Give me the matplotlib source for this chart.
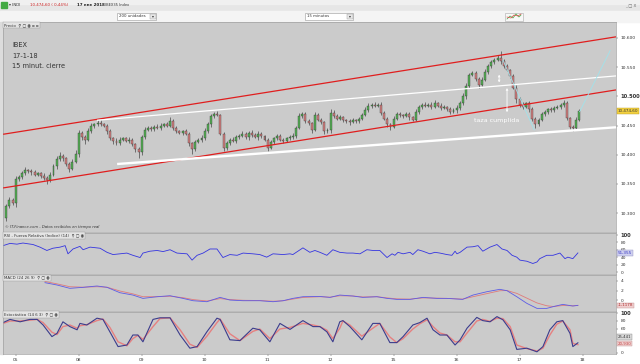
import numpy as np
import matplotlib
matplotlib.use('Agg')
import matplotlib.pyplot as plt
from matplotlib.patches import Rectangle

W, H = 640, 364

# --- price data (15 min bars) ---
day_labels = ['05', '08', '09', '10', '11', '12', '15', '16', '17', '18']
first_open = 10292
close_d04 = [10312, 10322, 10318]
close_d05 = [10358, 10362, 10368, 10374, 10372, 10370, 10366, 10368, 10364, 10360,
             10356, 10366, 10380, 10392, 10398, 10394, 10384, 10376, 10388, 10402]
close_d08 = [10438, 10430, 10426, 10440, 10450, 10452, 10455, 10452, 10450, 10440,
             10428, 10424, 10420, 10426, 10428, 10424, 10426, 10418, 10410, 10405]
close_d09 = [10430, 10442, 10446, 10444, 10448, 10446, 10450, 10452, 10450, 10458,
             10446, 10440, 10438, 10440, 10436, 10420, 10410, 10422, 10426, 10428]
close_d10 = [10440, 10452, 10466, 10470, 10468, 10436, 10412, 10420, 10426, 10424,
             10430, 10432, 10436, 10430, 10438, 10434, 10430, 10436, 10432, 10426]
close_d11 = [10412, 10422, 10428, 10432, 10426, 10424, 10428, 10430, 10432, 10446,
             10466, 10470, 10458, 10454, 10442, 10468, 10460, 10456, 10440, 10442]
close_d12 = [10472, 10466, 10462, 10464, 10460, 10458, 10456, 10460, 10458, 10462,
             10468, 10476, 10484, 10486, 10484, 10486, 10472, 10462, 10452, 10448]
close_d15 = [10462, 10470, 10468, 10466, 10470, 10464, 10460, 10474, 10482, 10486,
             10484, 10486, 10482, 10488, 10484, 10480, 10482, 10478, 10474, 10476]
close_d16 = [10480, 10488, 10500, 10518, 10536, 10540, 10530, 10520, 10528, 10542,
             10552, 10558, 10562, 10566, 10560, 10552, 10545, 10535, 10515, 10495]
close_d17 = [10486, 10482, 10488, 10478, 10462, 10452, 10460, 10470, 10474, 10478,
             10476, 10480, 10482, 10486, 10489, 10463, 10448, 10446, 10460, 10474.6]

up_wick = [4, 6, 3,
           6, 3, 4, 5, 2, 3, 4, 2, 3, 4, 3, 5, 4, 6, 7, 3, 2, 4, 5, 6,
           5, 3, 4, 6, 4, 3, 5, 4, 3, 2, 4, 3, 5, 4, 2, 3, 4, 3, 2, 3,
           4, 5, 3, 4, 3, 5, 4, 3, 4, 6, 3, 4, 3, 2, 4, 3, 2, 4, 3, 5,
           5, 4, 3, 4, 5, 2, 3, 4, 3, 5, 4, 3, 4, 3, 2, 4, 3, 4, 3, 2,
           3, 4, 2, 3, 4, 3, 2, 3, 6, 4, 5, 3, 4, 3, 2, 5, 4, 3, 2, 3,
           6, 4, 3, 4, 3, 2, 4, 3, 2, 3, 4, 5, 4, 3, 5, 3, 4, 3, 2, 3,
           4, 3, 4, 2, 3, 4, 3, 5, 4, 3, 4, 3, 4, 5, 3, 4, 3, 2, 3, 4,
           5, 4, 6, 5, 4, 3, 4, 3, 5, 4, 3, 4, 3, 5, 11, 4, 3, 2, 3, 4,
           4, 5, 3, 4, 3, 2, 3, 4, 3, 2, 4, 3, 4, 3, 4, 3, 2, 3, 4, 3]
dn_wick = [5, 3, 4,
           8, 3, 4, 2, 3, 4, 3, 2, 4, 3, 6, 3, 2, 4, 3, 5, 4, 6, 3, 2,
           6, 4, 8, 3, 2, 4, 3, 2, 3, 4, 3, 5, 4, 3, 2, 3, 4, 3, 5, 10,
           5, 3, 2, 4, 3, 2, 4, 3, 2, 3, 4, 3, 2, 4, 3, 5, 8, 3, 2, 4,
           3, 2, 4, 3, 2, 3, 6, 4, 3, 2, 4, 3, 2, 3, 4, 3, 2, 4, 3, 3,
           6, 3, 4, 2, 3, 4, 3, 2, 3, 4, 2, 3, 4, 3, 5, 2, 3, 4, 5, 3,
           4, 3, 2, 3, 4, 3, 5, 2, 3, 4, 3, 2, 3, 4, 3, 2, 4, 3, 4, 5,
           3, 2, 4, 3, 2, 5, 3, 2, 4, 3, 2, 3, 4, 2, 3, 4, 2, 3, 4, 3,
           4, 3, 2, 4, 3, 2, 4, 5, 3, 2, 3, 4, 3, 2, 4, 3, 2, 4, 3, 6,
           4, 3, 2, 4, 5, 6, 3, 2, 3, 4, 2, 3, 2, 3, 4, 3, 4, 5, 3, 2]

# trend lines drawn on the chart: (bar index, price)
red_top = [(-1.0, 10435), (193.6, 10602)]
red_bottom = [(-1.0, 10343), (193.6, 10511)]
white_top = [(28.8, 10459), (193.6, 10535)]
white_bottom = [(35.2, 10384), (193.6, 10447)]
cyan_down = [(157.7, 10562), (167.7, 10442)]
cyan_up = [(182.0, 10473), (191.8, 10579)]

# --- indicators ---
rsi_t = [-1.0, 1.2, 3.4, 5.3, 8.5, 10.7, 12.9, 14.8, 17.1, 18.7,
         19.6, 21.2, 23.4, 24.4, 26.6, 29.8, 32.0, 33.9, 36.1, 38.3,
         40.2, 42.5, 43.4, 45.6, 47.9, 49.8, 52.0, 54.2, 57.4, 59.0,
         60.6, 62.5, 64.7, 66.9, 68.8, 71.0, 73.3, 75.2, 78.3, 80.5,
         82.7, 84.7, 87.9, 90.1, 91.0, 94.2, 96.4, 98.0, 99.6, 101.8,
         103.7, 105.9, 108.2, 110.1, 112.3, 114.5, 116.4, 118.6, 120.9, 122.5,
         123.4, 124.4, 126.0, 128.2, 129.1, 130.7, 132.3, 134.5, 136.1, 137.7,
         139.9, 141.5, 142.5, 143.1, 144.1, 146.3, 148.2, 149.8, 151.3, 153.6,
         155.8, 157.4, 159.0, 160.6, 162.1, 163.1, 165.3, 167.2, 168.5, 169.4,
         171.6, 173.6, 175.8, 177.4, 178.3, 179.9, 181.5]
rsi_v = [71, 77, 75, 78, 74, 67, 58, 64, 67, 71,
         49, 62, 69, 60, 67, 64, 53, 47, 49, 51,
         45, 39, 51, 56, 58, 55, 60, 51, 49, 32,
         45, 51, 62, 62, 39, 47, 45, 51, 49, 47,
         40, 49, 47, 49, 47, 65, 53, 58, 53, 45,
         60, 53, 51, 51, 49, 60, 58, 58, 39, 49,
         45, 53, 49, 53, 47, 60, 56, 49, 53, 51,
         47, 45, 56, 49, 53, 67, 68, 71, 56, 67,
         74, 62, 58, 45, 40, 32, 29, 23, 27, 36,
         45, 45, 51, 36, 40, 36, 51.355]

macd_t = [12.3, 16.1, 20.2, 24.4, 28.8, 32.0, 36.1, 40.2, 43.4, 47.9,
          52.0, 56.1, 59.3, 63.7, 67.9, 71.0, 75.2, 80.5, 84.7, 87.9,
          91.0, 94.2, 99.6, 102.8, 105.9, 110.1, 113.2, 117.7, 120.9, 124.0,
          128.2, 132.3, 136.7, 139.9, 144.9, 148.2, 152.6, 156.7, 159.0, 162.1,
          165.3, 168.5, 171.6, 173.6, 176.7, 179.9, 181.5]
macd_v = [3.65, 3.16, 2.46, 2.67, 2.95, 2.67, 1.54, 1.05, 0.35, 0.7,
          0.91, 0.35, -0.14, -0.35, 0.56, 0.0, -0.14, -0.14, -0.35, -0.14,
          0.35, 0.7, 0.75, 0.56, 1.05, 0.84, 0.56, 0.7, 0.35, 0.14,
          0.14, 0.56, 0.35, 0.35, 0.14, 1.05, 1.75, 2.25, 1.96, 0.7,
          -0.7, -1.75, -1.75, -1.4, -0.91, -1.26, -1.1178]
signal_v = [3.9, 3.4, 2.8, 2.7, 2.8, 2.7, 1.9, 1.3, 0.7, 0.7,
            0.8, 0.5, 0.1, -0.2, 0.3, 0.1, -0.05, -0.1, -0.25, -0.15,
            0.2, 0.55, 0.7, 0.6, 0.9, 0.85, 0.65, 0.7, 0.45, 0.25,
            0.2, 0.45, 0.4, 0.35, 0.2, 0.7, 1.35, 1.95, 2.0, 1.4,
            0.4, -0.6, -1.2, -1.35, -1.15, -1.2, -1.12]

stoch_t = [-1.0, 1.2, 4.4, 7.5, 9.8, 11.7, 14.5, 16.1, 18.0, 20.2,
           22.5, 23.4, 25.6, 28.8, 30.7, 32.9, 35.5, 38.3, 40.2, 41.8,
           43.4, 46.6, 48.8, 52.0, 55.2, 58.3, 60.6, 63.7, 66.9, 67.9,
           71.0, 74.2, 78.3, 80.5, 83.7, 86.9, 90.1, 94.2, 97.4, 99.6,
           101.8, 103.7, 105.9, 106.9, 109.1, 112.9, 116.4, 118.6, 121.8, 124.0,
           126.0, 129.1, 131.3, 133.6, 135.5, 137.7, 139.9, 142.5, 144.1, 146.3,
           149.4, 151.3, 153.6, 155.8, 157.7, 160.0, 162.1, 165.3, 168.5, 170.4,
           172.6, 174.8, 176.7, 179.0, 179.9, 181.5]
stoch_k = [76, 84, 78, 84, 84, 70, 41, 49, 78, 66,
           58, 74, 70, 87, 84, 53, 16, 20, 45, 45,
           28, 84, 88, 88, 45, 12, 16, 53, 87, 84,
           33, 31, 62, 58, 28, 74, 59, 81, 66, 66,
           53, 28, 78, 81, 66, 33, 74, 74, 26, 26,
           41, 70, 76, 87, 58, 45, 45, 20, 33, 62,
           89, 81, 78, 91, 83, 58, 9, 12, 3, 16,
           58, 78, 81, 49, 16, 25.441]
stoch_d = [74, 80, 80, 82, 84, 76, 52, 46, 66, 70,
           62, 68, 71, 81, 85, 64, 28, 18, 36, 44,
           34, 66, 86, 88, 58, 22, 14, 42, 76, 85,
           48, 31, 54, 60, 36, 60, 64, 74, 70, 66,
           57, 36, 62, 80, 70, 42, 62, 74, 40, 26,
           36, 60, 73, 83, 66, 50, 45, 28, 28, 50,
           80, 84, 79, 87, 86, 66, 20, 11, 5, 12,
           45, 72, 80, 58, 24, 20.93]

closes = np.array(close_d04 + close_d05 + close_d08 + close_d09 + close_d10 +
                  close_d11 + close_d12 + close_d15 + close_d16 + close_d17, dtype=float)
n = len(closes)
opens = np.concatenate([[first_open], closes[:-1]])
highs = np.maximum(opens, closes) + np.array(up_wick[:n])
lows = np.minimum(opens, closes) - np.array(dn_wick[:n])
xb = np.arange(n)
day_ticks = [3 + 20 * k for k in range(len(day_labels))]

GRID = '#cbcbcb'
XLIM = (-1.03, 193.6)


def rect(x0, y0, x1, y1):
    return [x0 / W, 1 - y1 / H, (x1 - x0) / W, (y1 - y0) / H]


def thousands(v):
    return f"{v:,.0f}".replace(',', '.')


fig = plt.figure(figsize=(6.4, 3.64), dpi=100)
fig.patch.set_facecolor('white')

# window chrome
bg = fig.add_axes([0, 0, 1, 1])
bg.set_xlim(0, W)
bg.set_ylim(H, 0)
bg.axis('off')
bg.add_patch(Rectangle((0, 0), W, 11, color='#e6e6e6'))
bg.add_patch(Rectangle((0, 0), W, 4, color='#f0f0f0'))
bg.add_patch(Rectangle((0, 11), W, 11, color='#f4f4f4'))
bg.add_patch(Rectangle((0, 22), 3, 332, color='#dcdcdc'))
bg.add_patch(Rectangle((1, 2), 6, 6, color='#44aa44'))
bg.text(9, 5.5, '▾ INDI', fontsize=2.8, va='center', color='#333')
bg.text(30, 5.5, '10.474,60 ( 0,44%)', fontsize=2.9, va='center', color='#cc2222')
bg.text(77, 5.5, '17 ene 2018', fontsize=2.9, va='center', color='#222', weight='bold')
bg.text(105, 5.5, 'IBEX35 Index', fontsize=2.6, va='center', color='#333')
bg.text(636, 5.5, '_ □ X', fontsize=3, va='center', ha='right', color='#666')
for x0, x1, label in [(117, 156, '200 unidades'), (305, 353, '15 minutos')]:
    bg.add_patch(Rectangle((x0, 13), x1 - x0, 6.5, fc='white', ec='#999', lw=0.4))
    bg.add_patch(Rectangle((x1 - 6, 13.5), 5.5, 5.5, fc='#e8e8e8', ec='#999', lw=0.3))
    bg.text(x0 + 2, 16.3, label, fontsize=2.8, va='center', color='#333')
    bg.text(x1 - 3.3, 16.3, '▾', fontsize=2.8, va='center', ha='center', color='#333')
bg.add_patch(Rectangle((505, 12.5), 18, 8, fc='#f8f8f8', ec='#aaa', lw=0.4))
bg.plot([507, 510, 513, 516, 519, 521], [19, 16, 18, 14, 17, 15], color='#44aa44', lw=0.5)
bg.plot([507, 511, 514, 518, 521], [17, 18, 15, 16, 14], color='#dd4444', lw=0.5)

# ---------- price panel ----------
ax = fig.add_axes(rect(3, 22, 616, 232))
ax.set_facecolor(GRID)
up = closes >= opens
ax.vlines(xb, lows, highs, color='#3a3a3a', lw=0.45, zorder=2)
ax.bar(xb[up], (closes - opens)[up], bottom=opens[up], width=0.62,
       color='#55b055', edgecolor='#2e2e2e', lw=0.25, zorder=3)
ax.bar(xb[~up], (closes - opens)[~up], bottom=opens[~up], width=0.62,
       color='#d38080', edgecolor='#2e2e2e', lw=0.25, zorder=3)

for line, col, lw in [(red_top, '#e01e1e', 0.9), (red_bottom, '#e01e1e', 0.9),
                      (white_top, 'white', 0.9), (white_bottom, 'white', 1.7),
                      (cyan_down, '#9fe3ec', 0.6), (cyan_up, '#9fe3ec', 0.6)]:
    ax.plot([p[0] for p in line], [p[1] for p in line], color=col, lw=lw, zorder=4,
            solid_capstyle='butt')

ax.annotate('', xy=(156.5, 10542), xytext=(156.5, 10519),
            arrowprops=dict(arrowstyle='<->', color='white', lw=0.6, mutation_scale=3), zorder=5)
ax.annotate('', xy=(159, 10519), xytext=(159, 10468),
            arrowprops=dict(arrowstyle='<->', color='white', lw=0.6, mutation_scale=3), zorder=5)
ax.text(148.5, 10459, 'taza cumplida', color='white', fontsize=4.6, va='center', zorder=6)

ax.text(0.0147, 0.89, 'IBEX', transform=ax.transAxes, fontsize=4.8, va='center', color='#333')
ax.text(0.0147, 0.838, '17-1-18', transform=ax.transAxes, fontsize=4.8, va='center', color='#333')
ax.text(0.0147, 0.79, '15 minut. cierre', transform=ax.transAxes, fontsize=4.8, va='center', color='#333')
ax.text(0.004, 0.012, '© IT-Finance.com - Datos recibidos en tiempo real', transform=ax.transAxes,
        fontsize=2.7, style='italic', color='#333', va='bottom')
ax.text(0.002, 0.995, 'Precio  ⚲ ▢ ◉ ▫ ▫', transform=ax.transAxes, fontsize=2.8, va='top', color='#333',
        bbox=dict(boxstyle='square,pad=0.3', fc='#e4e4e4', ec='#999', lw=0.3))

ax.set_xlim(*XLIM)
ax.set_ylim(10267.5, 10627.4)
price_ticks = [10300, 10350, 10400, 10450, 10500, 10550, 10600]
ax.set_yticks(price_ticks)
ax.set_yticklabels([thousands(v) for v in price_ticks])
ax.text(1.003, 10474.6, '10.474,60', transform=ax.get_yaxis_transform(), fontsize=3,
        va='center', ha='left', color='#333', clip_on=False,
        bbox=dict(boxstyle='square,pad=0.25', fc='#f2d040', ec='#b89a20', lw=0.3))

# ---------- RSI ----------
ax_rsi = fig.add_axes(rect(3, 233, 616, 274))
ax_rsi.set_facecolor(GRID)
ax_rsi.plot(rsi_t, rsi_v, color='#3434e0', lw=0.6)
ax_rsi.set_xlim(*XLIM)
ax_rsi.set_ylim(-5.3, 105)
ax_rsi.set_yticks([0, 20, 40, 60, 80, 100])
ax_rsi.text(0.002, 0.985, 'RSI - Fuerza Relativa (Indice) (14)  ⚲ ▢ ◉', transform=ax_rsi.transAxes,
            fontsize=2.8, va='top', color='#333',
            bbox=dict(boxstyle='square,pad=0.3', fc='#e4e4e4', ec='#999', lw=0.3))
ax_rsi.text(1.003, rsi_v[-1], '51,355', transform=ax_rsi.get_yaxis_transform(), fontsize=3,
            va='center', ha='left', color='#3434c0', clip_on=False,
            bbox=dict(boxstyle='square,pad=0.2', fc='#cfd0ef', ec='#9090c0', lw=0.3))

# ---------- MACD ----------
ax_macd = fig.add_axes(rect(3, 275, 616, 311))
ax_macd.set_facecolor(GRID)
ax_macd.plot(macd_t, signal_v, color='#e07a7a', lw=0.6)
ax_macd.plot(macd_t, macd_v, color='#5c5ce6', lw=0.6)
ax_macd.set_xlim(*XLIM)
ax_macd.set_ylim(-2.3, 5.26)
ax_macd.set_yticks([0, 2, 4])
ax_macd.text(0.002, 0.98, 'MACD (24 26 9)  ⚲ ▢ ◉', transform=ax_macd.transAxes,
             fontsize=2.8, va='top', color='#333',
             bbox=dict(boxstyle='square,pad=0.3', fc='#e4e4e4', ec='#999', lw=0.3))
ax_macd.text(1.003, -1.1178, '-1,1178', transform=ax_macd.get_yaxis_transform(), fontsize=3,
             va='center', ha='left', color='#b03030', clip_on=False,
             bbox=dict(boxstyle='square,pad=0.2', fc='#efcfcf', ec='#c09090', lw=0.3))

# ---------- Stochastic ----------
ax_st = fig.add_axes(rect(3, 312, 616, 354))
ax_st.set_facecolor(GRID)
ax_st.plot(stoch_t, stoch_d, color='#e68080', lw=1.0)
ax_st.plot(stoch_t, stoch_k, color='#3c3c8c', lw=0.8)
ax_st.set_xlim(*XLIM)
ax_st.set_ylim(-2.5, 102.5)
ax_st.set_yticks([0, 60, 80, 100])
ax_st.text(0.002, 0.985, 'Estocástico (14 6 3)  ⚲ ▢ ◉', transform=ax_st.transAxes,
           fontsize=2.8, va='top', color='#333',
           bbox=dict(boxstyle='square,pad=0.3', fc='#e4e4e4', ec='#999', lw=0.3))
ax_st.text(1.003, 40, '25,441', transform=ax_st.get_yaxis_transform(), fontsize=2.8,
           va='center', ha='left', color='#333', clip_on=False,
           bbox=dict(boxstyle='square,pad=0.15', fc='#d8d8d8', ec='#888', lw=0.3))
ax_st.text(1.003, 23, '20,930', transform=ax_st.get_yaxis_transform(), fontsize=2.8,
           va='center', ha='left', color='#c04040', clip_on=False,
           bbox=dict(boxstyle='square,pad=0.15', fc='#efcfcf', ec='#c09090', lw=0.3))
ax_st.set_xticks(day_ticks)
ax_st.set_xticklabels(day_labels)

for a in [ax, ax_rsi, ax_macd, ax_st]:
    a.yaxis.tick_right()
    a.tick_params(axis='y', length=1.5, width=0.3, labelsize=3.2, pad=2, colors='#333')
    for s in a.spines.values():
        s.set_color('#a0a0a0')
        s.set_linewidth(0.5)
    if a is not ax_st:
        a.set_xticks([])
    for lbl in a.get_yticklabels():
        if lbl.get_text() in ('10.500', '100'):
            lbl.set_fontweight('bold')
            lbl.set_fontsize(3.7)
ax_st.tick_params(axis='x', length=1.5, width=0.3, labelsize=3.2, pad=1.5, colors='#333')

fig.savefig('out.png', dpi=100, facecolor=fig.get_facecolor())
